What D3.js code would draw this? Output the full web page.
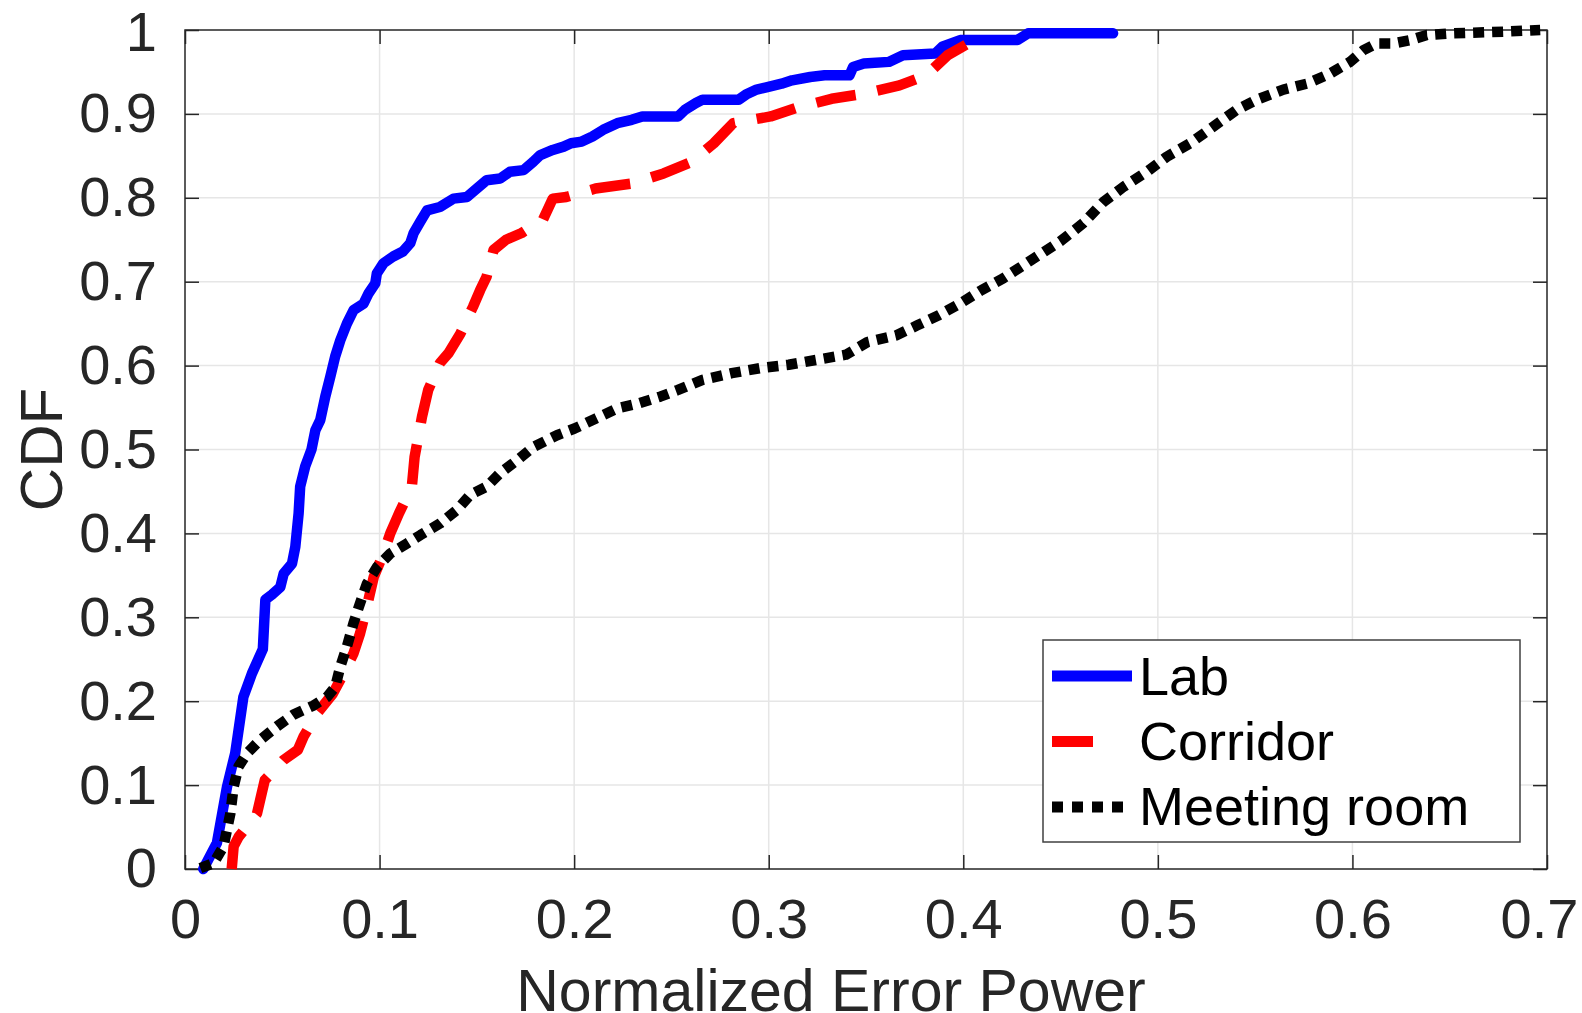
<!DOCTYPE html>
<html>
<head>
<meta charset="utf-8">
<script src="https://cdn.jsdelivr.net/npm/d3@7"></script>
<style>
html,body{margin:0;padding:0;background:#fff;}
svg{display:block;}
text{font-family:"Liberation Sans",Arial,Helvetica,sans-serif;}
</style>
</head>
<body>
<svg id="chart" width="1582" height="1013"></svg>
<script>
// ---------------- DATA ----------------
const seriesNames = ["Lab", "Corridor", "Meeting room"];

const labX = [0.0094,0.0164,0.0216,0.0258,0.0300,0.0344,0.0400,0.0413,0.0447,0.0490,0.0507,0.0550,0.0567,0.0584,0.0592,0.0618,0.0650,0.0670,0.0695,0.0721,0.0747,0.0772,0.0798,0.0832,0.0866,0.0918,0.0943,0.0978,0.0986,0.1020,0.1070,0.1120,0.1158,0.1175,0.1210,0.1244,0.1310,0.1380,0.1449,0.1500,0.1550,0.1620,0.1670,0.1740,0.1790,0.1826,0.1890,0.1946,0.1984,0.2039,0.2094,0.2149,0.2222,0.2296,0.2350,0.2534,0.2570,0.2626,0.2660,0.2846,0.2883,0.2938,0.2993,0.3066,0.3120,0.3213,0.3287,0.3415,0.3434,0.3489,0.3617,0.3690,0.3856,0.3892,0.3984,0.4278,0.4333,0.4770];
const labY = [0.000,0.031,0.098,0.138,0.205,0.233,0.262,0.321,0.327,0.336,0.352,0.364,0.384,0.424,0.456,0.480,0.500,0.523,0.535,0.563,0.587,0.611,0.630,0.650,0.666,0.674,0.686,0.698,0.710,0.722,0.730,0.736,0.746,0.758,0.772,0.785,0.789,0.799,0.801,0.811,0.821,0.823,0.831,0.833,0.843,0.851,0.857,0.861,0.865,0.867,0.873,0.881,0.889,0.893,0.897,0.897,0.905,0.913,0.917,0.917,0.923,0.929,0.932,0.936,0.940,0.944,0.946,0.946,0.956,0.960,0.962,0.970,0.972,0.980,0.988,0.988,0.996,0.996];

const corridorX = [0.0240,0.0250,0.0275,0.0370,0.0410,0.0507,0.0580,0.0610,0.0680,0.0760,0.0815,0.0866,0.0900,0.0935,0.0970,0.1020,0.1055,0.1100,0.1166,0.1180,0.1218,0.1250,0.1310,0.1355,0.1415,0.1480,0.1517,0.1550,0.1586,0.1650,0.1730,0.1840,0.1890,0.1960,0.2110,0.2296,0.2460,0.2605,0.2718,0.2818,0.3010,0.3140,0.3323,0.3489,0.3672,0.3810,0.3920,0.4040];
const corridorY = [0.000,0.027,0.038,0.066,0.106,0.130,0.142,0.158,0.186,0.209,0.233,0.257,0.281,0.313,0.348,0.376,0.400,0.424,0.456,0.491,0.539,0.571,0.603,0.615,0.638,0.670,0.690,0.706,0.738,0.750,0.758,0.774,0.799,0.801,0.811,0.817,0.829,0.843,0.865,0.889,0.897,0.907,0.918,0.924,0.934,0.946,0.970,0.986];

const meetingX = [0.0079,0.0147,0.0198,0.0233,0.0250,0.0275,0.0319,0.0387,0.0473,0.0558,0.0661,0.0730,0.0772,0.0798,0.0832,0.0866,0.0900,0.0935,0.0987,0.1055,0.1141,0.1210,0.1312,0.1398,0.1466,0.1552,0.1620,0.1706,0.1790,0.1912,0.2002,0.2112,0.2222,0.2332,0.2442,0.2534,0.2660,0.2810,0.2956,0.3103,0.3250,0.3397,0.3507,0.3654,0.3764,0.3874,0.3984,0.4094,0.4205,0.4351,0.4498,0.4618,0.4720,0.4823,0.4943,0.5046,0.5166,0.5286,0.5406,0.5509,0.5645,0.5766,0.5885,0.5988,0.6057,0.6125,0.6211,0.6297,0.6383,0.6502,0.6776,0.6965];
const meetingY = [0.001,0.007,0.027,0.066,0.098,0.122,0.138,0.154,0.170,0.184,0.195,0.205,0.217,0.241,0.265,0.293,0.317,0.340,0.360,0.376,0.388,0.398,0.412,0.428,0.446,0.456,0.472,0.487,0.503,0.517,0.525,0.537,0.549,0.555,0.563,0.571,0.583,0.591,0.597,0.601,0.607,0.613,0.628,0.636,0.648,0.660,0.674,0.690,0.704,0.726,0.748,0.770,0.795,0.813,0.831,0.849,0.865,0.885,0.905,0.917,0.929,0.936,0.948,0.962,0.976,0.984,0.984,0.988,0.994,0.996,0.998,1.000];

const xTicks = [0, 0.1, 0.2, 0.3, 0.4, 0.5, 0.6, 0.7];
const xTickLabels = ["0", "0.1", "0.2", "0.3", "0.4", "0.5", "0.6", "0.7"];
const yTicks = [0, 0.1, 0.2, 0.3, 0.4, 0.5, 0.6, 0.7, 0.8, 0.9, 1];
const yTickLabels = ["0", "0.1", "0.2", "0.3", "0.4", "0.5", "0.6", "0.7", "0.8", "0.9", "1"];
const xTitle = "Normalized Error Power";
const yTitle = "CDF";

// ---------------- STYLE / LAYOUT ----------------
const plotL = 185, plotR = 1547, plotT = 30, plotB = 869;
const axisColor = "#262626";
const gridColor = "#e6e6e6";
const styles = [
  {color: "#0000ff", dash: null},
  {color: "#ff0000", dash: "40,22"},
  {color: "#000000", dash: "11,8"}
];
const lineW = 10.5;
const fontFam = '"Liberation Sans", Arial, Helvetica, sans-serif';

const svg = d3.select("#chart");
const x = d3.scaleLinear().domain([0, 0.7]).range([plotL, plotR]);
const y = d3.scaleLinear().domain([0, 1]).range([plotB, plotT]);

svg.append("rect").attr("x",0).attr("y",0).attr("width",1582).attr("height",1013).attr("fill","#fff");

// grid
const grid = svg.append("g");
grid.selectAll("line.gx").data(xTicks.slice(1, -1)).join("line")
  .attr("x1", d => x(d)).attr("x2", d => x(d)).attr("y1", plotT).attr("y2", plotB)
  .attr("stroke", gridColor).attr("stroke-width", 1.5);
grid.selectAll("line.gy").data(yTicks.slice(1, -1)).join("line")
  .attr("x1", plotL).attr("x2", plotR).attr("y1", d => y(d)).attr("y2", d => y(d))
  .attr("stroke", gridColor).attr("stroke-width", 1.5);

// axes
function styleAxis(g, showLabels) {
  g.select(".domain").remove();
  g.selectAll(".tick line").attr("stroke", axisColor).attr("stroke-width", 1.5);
  if (showLabels) {
    g.selectAll(".tick text").attr("fill", axisColor).style("font-size", "56px")
      .style("font-family", fontFam);
  } else {
    g.selectAll(".tick text").remove();
  }
}
const xAxisB = d3.axisBottom(x).tickValues(xTicks).tickFormat((d, i) => xTickLabels[i])
  .tickSizeInner(-14).tickSizeOuter(0).tickPadding(29);
const gxb = svg.append("g").attr("transform", `translate(0,${plotB})`).call(xAxisB).call(g => styleAxis(g, true));
gxb.selectAll(".tick text").filter(d => d === 0.7).attr("dx", -8);
const xAxisT = d3.axisTop(x).tickValues(xTicks).tickSizeInner(-14).tickSizeOuter(0);
svg.append("g").attr("transform", `translate(0,${plotT})`).call(xAxisT).call(g => styleAxis(g, false));
const yAxisL = d3.axisLeft(y).tickValues(yTicks).tickFormat((d, i) => yTickLabels[i])
  .tickSizeInner(-14).tickSizeOuter(0).tickPadding(28);
const gyl = svg.append("g").attr("transform", `translate(${plotL},0)`).call(yAxisL).call(g => styleAxis(g, true));
gyl.selectAll(".tick text").filter(d => d === 1).attr("dy", "0.36em");
const yAxisR = d3.axisRight(y).tickValues(yTicks).tickSizeInner(-14).tickSizeOuter(0);
svg.append("g").attr("transform", `translate(${plotR},0)`).call(yAxisR).call(g => styleAxis(g, false));

// frame
svg.append("rect").attr("x", plotL).attr("y", plotT).attr("width", plotR - plotL).attr("height", plotB - plotT)
  .attr("fill", "none").attr("stroke", axisColor).attr("stroke-width", 1.5);

// lines
const seriesData = [
  labX.map((v, i) => [v, labY[i]]),
  corridorX.map((v, i) => [v, corridorY[i]]),
  meetingX.map((v, i) => [v, meetingY[i]])
];
const line = d3.line().x(d => x(d[0])).y(d => y(d[1]));
seriesData.forEach((s, i) => {
  const p = svg.append("path").datum(s).attr("d", line)
    .attr("fill", "none").attr("stroke", styles[i].color).attr("stroke-width", lineW)
    .attr("stroke-linejoin", "round");
  if (styles[i].dash) p.attr("stroke-dasharray", styles[i].dash).attr("stroke-linecap", "butt");
  else p.attr("stroke-linecap", "round");
});

// axis titles
svg.append("text").attr("x", 831).attr("y", 1011).attr("text-anchor", "middle")
  .attr("fill", axisColor).style("font-size", "59px").text(xTitle);
svg.append("text").attr("transform", `translate(62,${(plotT + plotB) / 2}) rotate(-90)`).attr("text-anchor", "middle")
  .attr("fill", axisColor).style("font-size", "60px").text(yTitle);

// legend
const lg = svg.append("g");
lg.append("rect").attr("x", 1043).attr("y", 640).attr("width", 477).attr("height", 202)
  .attr("fill", "#fff").attr("stroke", "#404040").attr("stroke-width", 1.5);
const rowY = [676, 741.5, 807];
const rowBase = [695, 760, 825];
const sampleLen = [80, 41, 80];
seriesNames.forEach((name, i) => {
  const l = lg.append("line").attr("x1", 1052).attr("x2", 1052 + sampleLen[i])
    .attr("y1", rowY[i]).attr("y2", rowY[i])
    .attr("stroke", styles[i].color).attr("stroke-width", 11);
  if (i === 2) l.attr("stroke-dasharray", "11,9");
  lg.append("text").attr("x", 1139).attr("y", rowBase[i]).attr("fill", "#000")
    .style("font-size", "54px").text(name);
});
</script>
</body>
</html>
